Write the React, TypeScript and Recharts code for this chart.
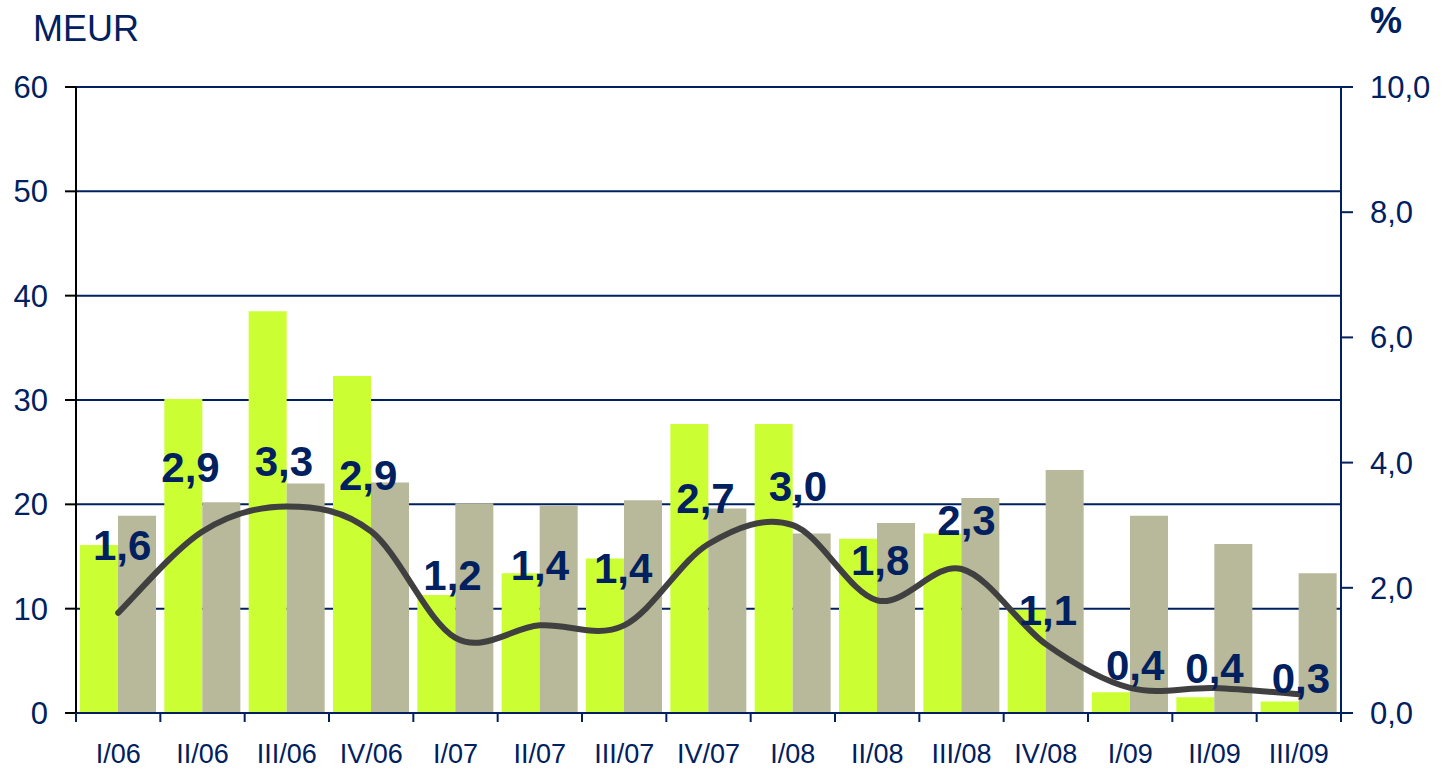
import { ComposedChart, Bar, Line, XAxis, YAxis, CartesianGrid, LabelList } from 'recharts';

// quarterly figures
const QUARTERS = ['I/06', 'II/06', 'III/06', 'IV/06', 'I/07', 'II/07', 'III/07', 'IV/07', 'I/08', 'II/08', 'III/08', 'IV/08', 'I/09', 'II/09', 'III/09'];
const PROFIT = [16.1, 30.1, 38.5, 32.3, 11.3, 13.4, 14.8, 27.7, 27.7, 16.7, 17.2, 9.9, 2.0, 1.5, 1.1];
const COSTS = [18.9, 20.2, 22.0, 22.1, 20.1, 19.9, 20.4, 19.6, 17.2, 18.2, 20.6, 23.3, 18.9, 16.2, 13.4];
const PERCENT = [1.6, 2.9, 3.3, 2.9, 1.2, 1.4, 1.4, 2.7, 3.0, 1.8, 2.3, 1.1, 0.4, 0.4, 0.3];
const LEFT_TICKS = [0, 10, 20, 30, 40, 50, 60];
const RIGHT_TICKS = [0, 2, 4, 6, 8, 10];

// label nudges (px) relative to each line point
const LABEL_DX = [4, -12, -3, -3, -3, 0, -1, -3, 5, 3, 5, 2, 5, 0, 2];
const LABEL_DY = [-68, -64, -45, -56, -63, -60, -57, -46, -39, -40, -49, -34, -23, -20, -16];

const NAVY = '#002060';
const GREEN = '#ccff33';
const KHAKI = '#b8b89a';
const LINE = '#404040';
const FONT = "'Liberation Sans', Arial, sans-serif";
const NARROW = "'Liberation Sans Narrow', 'Arial Narrow', 'Liberation Sans', Arial, sans-serif";

const W = 1444;
const H = 769;
const PLOT_LEFT = 76;
const PLOT_RIGHT = 1341;
const BAND = (PLOT_RIGHT - PLOT_LEFT) / QUARTERS.length;

const data = QUARTERS.map((q, i) => ({
  q,
  profit: PROFIT[i],
  costs: COSTS[i],
  pct: PERCENT[i],
}));

const comma = (v: number, d: number) => v.toFixed(d).replace('.', ',');

// Excel-like smoothed line (Catmull-Rom as cubic beziers)
const smoothCurve = (context: any) => {
  let pts: number[][] = [];
  return {
    areaStart() {},
    areaEnd() {},
    lineStart() {
      pts = [];
    },
    point(x: number, y: number) {
      pts.push([+x, +y]);
    },
    lineEnd() {
      if (!pts.length) return;
      context.moveTo(pts[0][0], pts[0][1]);
      for (let i = 0; i < pts.length - 1; i++) {
        const p0 = pts[i - 1] || pts[i];
        const p1 = pts[i];
        const p2 = pts[i + 1];
        const p3 = pts[i + 2] || p2;
        context.bezierCurveTo(
          p1[0] + (p2[0] - p0[0]) / 6,
          p1[1] + (p2[1] - p0[1]) / 6,
          p2[0] - (p3[0] - p1[0]) / 6,
          p2[1] - (p3[1] - p1[1]) / 6,
          p2[0],
          p2[1]
        );
      }
    },
  };
};

const QuarterTick = (props: any) => {
  const { x, y, payload, index } = props;
  const left = x - BAND / 2;
  return (
    <g>
      <line x1={left} x2={left} y1={y} y2={y + 9} stroke={NAVY} strokeWidth={2} />
      {index === QUARTERS.length - 1 && (
        <line x1={x + BAND / 2} x2={x + BAND / 2} y1={y} y2={y + 9} stroke={NAVY} strokeWidth={2} />
      )}
      <text x={x} y={y + 50} textAnchor="middle" fill={NAVY} fontSize={27} fontFamily={NARROW}>
        {payload.value}
      </text>
    </g>
  );
};

const PctLabel = (props: any) => {
  const { x, y, value, index } = props;
  return (
    <text
      x={x + LABEL_DX[index]}
      y={y + LABEL_DY[index] + 15}
      textAnchor="middle"
      fill={NAVY}
      fontSize={42}
      fontWeight="bold"
      fontFamily={NARROW}
    >
      {comma(value, 1)}
    </text>
  );
};

export default function App() {
  return (
    <div style={{ position: 'absolute', left: 0, top: 0, width: W, height: H, background: '#fff' }}>
      <div style={{ position: 'absolute', left: 33, top: 8, fontSize: 36, color: NAVY, fontFamily: FONT }}>
        MEUR
      </div>
      <div style={{ position: 'absolute', left: 1370, top: 0, fontSize: 36, fontWeight: 'bold', color: NAVY, fontFamily: FONT }}>
        %
      </div>
      <ComposedChart
        width={W}
        height={H}
        data={data}
        margin={{ top: 87, right: 0, bottom: 0, left: 0 }}
        barGap={0}
      >
        <CartesianGrid yAxisId="left" vertical={false} stroke={NAVY} strokeWidth={2} />
        <XAxis
          dataKey="q"
          height={56}
          tickLine={false}
          tickSize={0}
          tickMargin={0}
          axisLine={{ stroke: NAVY, strokeWidth: 2 }}
          tick={<QuarterTick />}
          interval={0}
        />
        <YAxis
          yAxisId="left"
          width={76}
          domain={[0, 60]}
          ticks={LEFT_TICKS}
          tickSize={11}
          tickMargin={17}
          axisLine={{ stroke: '#000', strokeWidth: 2 }}
          tickLine={{ stroke: '#000', strokeWidth: 2 }}
          tick={{ fill: NAVY, fontSize: 31, fontFamily: FONT }}
        />
        <YAxis
          yAxisId="right"
          orientation="right"
          width={103}
          domain={[0, 10]}
          ticks={RIGHT_TICKS}
          tickSize={12}
          tickMargin={17}
          axisLine={{ stroke: NAVY, strokeWidth: 2 }}
          tickLine={{ stroke: NAVY, strokeWidth: 2 }}
          tick={{ fill: NAVY, fontSize: 31, fontFamily: FONT }}
          tickFormatter={(v: number) => comma(v, 1)}
        />
        <Bar yAxisId="left" dataKey="profit" fill={GREEN} barSize={38} isAnimationActive={false} />
        <Bar yAxisId="left" dataKey="costs" fill={KHAKI} barSize={38} isAnimationActive={false} />
        <Line
          yAxisId="right"
          type={smoothCurve as any}
          dataKey="pct"
          stroke={LINE}
          strokeWidth={6}
          strokeLinecap="round"
          dot={false}
          isAnimationActive={false}
        >
          <LabelList dataKey="pct" content={<PctLabel />} />
        </Line>
      </ComposedChart>
    </div>
  );
}
